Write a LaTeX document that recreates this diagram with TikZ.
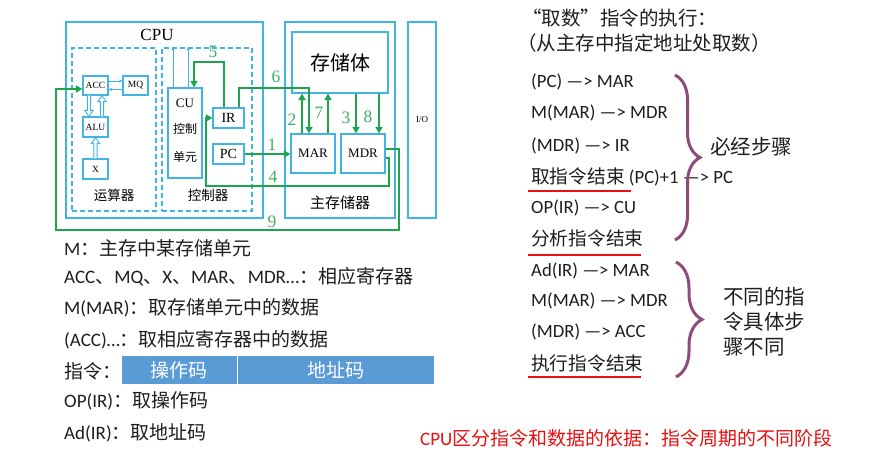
\documentclass[tikz,border=0pt]{standalone}
\usepackage{fontspec}
\setmainfont{Carlito}
\newfontfamily\cjk{Noto Sans CJK SC}
\newfontfamily\tms{Liberation Serif}
\usetikzlibrary{arrows.meta,decorations.pathreplacing}
\definecolor{lb}{HTML}{40B4E4}
\definecolor{gline}{HTML}{1CA54A}
\definecolor{gnum}{HTML}{3DB065}
\definecolor{barblue}{HTML}{5B9BD5}
\definecolor{brc}{HTML}{8E4B7C}
\definecolor{redl}{HTML}{E81010}
\definecolor{tx}{HTML}{1E1E1E}
\newcommand\holarrow[3]{\draw[hol] ([xshift=-1.6pt]#1) -- ([xshift=-1.6pt,yshift=#3]#2) -- ([xshift=-4.2pt,yshift=#3]#2) -- (#2) -- ([xshift=4.2pt,yshift=#3]#2) -- ([xshift=1.6pt,yshift=#3]#2) -- ([xshift=1.6pt]#1);}
\begin{document}
\begin{tikzpicture}[x=1pt,y=-1pt,
  bigbox/.style={draw=lb, line width=1.6pt, inner sep=0pt},
  dbox/.style={draw=lb, line width=1.3pt, dash pattern=on 5pt off 3pt, inner sep=0pt},
  rbox/.style={draw=lb, line width=1.2pt, inner sep=0pt, fill=white},
  dlab/.style={inner sep=0pt, text=black},
  glab/.style={text=gnum, font=\tms\fontsize{17.5}{17}\selectfont, inner sep=0pt},
  gl/.style={draw=gline, line width=2.8pt, -{Triangle[length=6.5pt,width=7pt]}},
  thinarr/.style={draw=lb, line width=0.9pt, -{Stealth[length=3.5pt,width=3pt]}},
  hol/.style={draw=lb, line width=0.9pt, fill=white},
  lt/.style={anchor=west, inner sep=0pt, text=tx, font=\fontsize{19}{20}\selectfont},
  rt/.style={anchor=west, inner sep=0pt, text=tx, font=\fontsize{18.7}{20}\selectfont},
  brace/.style={draw=brc, line width=3pt, decorate},
  uline/.style={draw=redl, line width=2.2pt},
  barcell/.style={fill=barblue, draw=white, line width=1pt, inner sep=0pt, text=white, font=\cjk\fontsize{19}{20}\selectfont}
]
\useasboundingbox (0,0) rectangle (879,457);
\fill[white] (0,0) rectangle (879,457);

% ---------- CPU ----------
\node[bigbox, minimum width=197, minimum height=196] (cpu) at (164.5,120) {};
\node[dlab, font=\tms\fontsize{17}{17}\selectfont] (cpulbl) at (157,35) {CPU};
\node[dbox, minimum width=84, minimum height=163] (alua) at (114,129.5) {};
\node[dbox, minimum width=90, minimum height=163] (ctrl) at (207,129.5) {};

\node[rbox, minimum width=25, minimum height=19, font=\tms\fontsize{9.5}{10}\selectfont] (ACC) at (95.5,85.5) {ACC};
\node[rbox, minimum width=25, minimum height=19, font=\tms\fontsize{9.5}{10}\selectfont] (MQ) at (135.5,85.5) {MQ};
\node[rbox, minimum width=25, minimum height=20, font=\tms\fontsize{9.5}{10}\selectfont] (ALU) at (95.5,127) {ALU};
\node[rbox, minimum width=25, minimum height=20, font=\tms\fontsize{9.5}{10}\selectfont] (X) at (95.5,169) {X};
\node[dlab, font=\cjk\fontsize{13.5}{14}\selectfont] (yunsuan) at (114,195) {运算器};

\node[rbox, minimum width=34, minimum height=90] (CU) at (185,133) {};
\node[dlab, font=\tms\fontsize{13}{13}\selectfont] (cut1) at (185,103) {CU};
\node[dlab, font=\cjk\fontsize{12}{12}\selectfont] (cut2) at (185,129) {控制};
\node[dlab, font=\cjk\fontsize{12}{12}\selectfont] (cut3) at (185,157) {单元};
\node[rbox, minimum width=31, minimum height=20, font=\tms\fontsize{14}{14}\selectfont] (IR) at (228.5,118) {IR};
\node[rbox, minimum width=31, minimum height=20, font=\tms\fontsize{14}{14}\selectfont] (PC) at (228.5,154) {PC};
\node[dlab, font=\cjk\fontsize{13.5}{14}\selectfont] (kongzhi) at (208,195) {控制器};
\node[inner sep=0pt, text=lb, font=\fontsize{8}{8}\selectfont] (dots) at (181,73) {$\cdots$};

% ---------- memory ----------
\node[bigbox, minimum width=110, minimum height=196] (mem) at (340,120) {};
\node[rbox, minimum width=96, minimum height=61, font=\cjk\fontsize{20}{20}\selectfont] (store) at (340,62.5) {存储体};
\node[rbox, minimum width=44, minimum height=39, font=\tms\fontsize{13}{13}\selectfont] (MAR) at (313,153.5) {MAR};
\node[rbox, minimum width=44, minimum height=39, font=\tms\fontsize{13}{13}\selectfont] (MDR) at (363,153.5) {MDR};
\node[dlab, font=\cjk\fontsize{15}{15}\selectfont] (zhucun) at (340,203) {主存储器};
\node[bigbox, minimum width=28, minimum height=196, font=\tms\fontsize{9}{9}\selectfont] (IO) at (422,120) {I/O};

% ---------- light blue inner connectors ----------
\draw[thinarr] ([yshift=4.5pt]ACC.east) -- ([yshift=4.5pt]MQ.west);
\draw[thinarr] ([yshift=-4pt]MQ.west) -- ([yshift=-4pt]ACC.east);
\coordinate (h1t) at ([xshift=-6.5pt]ACC.south);
\coordinate (h1h) at ([xshift=-6.5pt]ALU.north);
\holarrow{h1t}{h1h}{6pt}
\coordinate (h2t) at ([xshift=6.5pt]ALU.north);
\coordinate (h2h) at ([xshift=6.5pt]ACC.south);
\holarrow{h2t}{h2h}{-6pt}
\coordinate (h3t) at (X.north);
\coordinate (h3h) at (ALU.south);
\holarrow{h3t}{h3h}{-6pt}
\coordinate (cu1) at ([xshift=-12pt]CU.north);
\coordinate (cu2) at ([xshift=3pt]CU.north);
\draw[thinarr] (cu1) -- (cu1 |- ctrl.north);
\draw[thinarr] (cu2) -- (cu2 |- ctrl.north);

% ---------- green connectors ----------
\draw[gl] (PC.east) -- (PC.east -| MAR.west);
\coordinate (m2) at ([xshift=-11pt]MAR.north);
\draw[gl] (m2) -- (m2 |- store.south);
\coordinate (m7) at ([xshift=15pt]MAR.north);
\draw[gl] (m7) -- (m7 |- store.south);
\coordinate (d3) at ([xshift=-7pt]MDR.north);
\draw[gl] (d3 |- store.south) -- (d3);
\coordinate (d8) at ([xshift=16pt]MDR.north);
\draw[gl] (d8 |- store.south) -- (d8);
\coordinate (i6) at ([xshift=10.5pt]IR.north);
\coordinate (c6) at (309,88);
\coordinate (m6) at ([xshift=-4pt]MAR.north);
\draw[gl] (i6) |- (c6) -- (m6);
\coordinate (i5) at ([xshift=-4.5pt]IR.north);
\coordinate (c5) at (194,62);
\draw[gl] (i5) |- (c5) -- (c5 |- CU.north);
\coordinate (m4) at ([yshift=-4.5pt]MDR.east);
\coordinate (c4a) at (389,186);
\coordinate (c4b) at (206,186);
\draw[gl] (m4) -| (c4a) -- (c4b) |- (IR.west);
\coordinate (m9) at ([yshift=4.5pt]MDR.east);
\coordinate (c9a) at (399,230);
\coordinate (c9b) at (56,230);
\coordinate (a9) at ([yshift=-3.5pt]ACC.west);
\draw[gl] (m9) -| (c9a) -- (c9b) |- (a9);

\node[glab] (n1) at (272,145) {1};
\node[glab] (n2) at (292,120) {2};
\node[glab] (n3) at (346,118) {3};
\node[glab] (n4) at (273,177) {4};
\node[glab] (n5) at (213,52) {5};
\node[glab] (n6) at (276,77) {6};
\node[glab] (n7) at (319,113) {7};
\node[glab] (n8) at (368,117) {8};
\node[glab] (n9) at (272,222) {9};

% ---------- left text ----------
\node[lt] (l1) at (64,248) {M{\cjk ：主存中某存储单元}};
\node[lt] (l2) at (64,277) {ACC{\cjk 、}MQ{\cjk 、}X{\cjk 、}MAR{\cjk 、}MDR…{\cjk ：相应寄存器}};
\node[lt] (l3) at (64,308) {M(MAR){\cjk ：取存储单元中的数据}};
\node[lt] (l4) at (64,340) {(ACC)…{\cjk ：取相应寄存器中的数据}};
\node[lt] (l5) at (64,371) {{\cjk 指令：}};
\node[barcell, minimum width=116, minimum height=28] (op) at (179,370) {操作码};
\node[barcell, minimum width=197, minimum height=28] (addr) at (335.5,370) {地址码};
\node[lt] (l6) at (64,401) {OP(IR){\cjk ：取操作码}};
\node[lt] (l7) at (64,433) {Ad(IR){\cjk ：取地址码}};

% ---------- right text ----------
\node[rt, font=\cjk\fontsize{19.5}{20}\selectfont] (h1) at (522,18) {“取数”指令的执行：};
\node[rt, font=\cjk\fontsize{19.5}{20}\selectfont] (h2) at (517,43) {（从主存中指定地址处取数）};
\node[rt] (r1) at (531,82) {(PC) —> MAR};
\node[rt] (r2) at (531,113) {M(MAR) —> MDR};
\node[rt] (r3) at (531,146) {(MDR) —> IR};
\node[rt] (r4) at (531,177) {{\cjk 取指令结束} (PC)+1 —> PC};
\node[rt] (r5) at (531,208) {OP(IR) —> CU};
\node[rt] (r6) at (531,238) {{\cjk 分析指令结束}};
\node[rt] (r7) at (531,271) {Ad(IR) —> MAR};
\node[rt] (r8) at (531,301) {M(MAR) —> MDR};
\node[rt] (r9) at (531,332) {(MDR) —> ACC};
\node[rt] (r10) at (531,363) {{\cjk 执行指令结束}};
\draw[uline] (528,191) -- (631,191);
\draw[uline] (528,255) -- (641,255);
\draw[uline] (528,377) -- (641,377);

\draw[brace, decoration={brace, amplitude=25pt}] (675,75) -- (675,240);
\draw[brace, decoration={brace, amplitude=26pt}] (676,262) -- (676,377);
\node[rt, font=\cjk\fontsize{20.5}{21}\selectfont] (bj) at (710,147) {必经步骤};
\node[rt, font=\cjk\fontsize{20.5}{25}\selectfont, align=left] (bt) at (723,322) {不同的指\\令具体步\\骤不同};

\node[rt, text=redl, font=\fontsize{19}{20}\selectfont] (bottom) at (420,438) {CPU{\cjk 区分指令和数据的依据：指令周期的不同阶段}};
\end{tikzpicture}
\end{document}
